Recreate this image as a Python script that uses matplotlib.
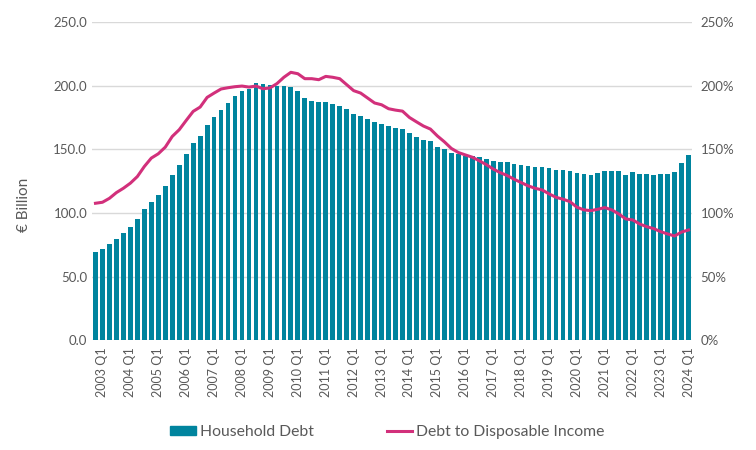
import matplotlib
matplotlib.use("Agg")
import matplotlib.pyplot as plt
from matplotlib.patches import Patch
from matplotlib.lines import Line2D
from matplotlib.ticker import FuncFormatter
import numpy as np

plt.rcParams['font.family'] = ['Lato', 'DejaVu Sans']

# quarters 2002 Q4 .. 2024 Q1
quarters = ['2002 Q4'] + ['%d Q%d' % (y, q) for y in range(2003, 2024) for q in range(1, 5)] + ['2024 Q1']

# household debt, EUR billion
household_debt = [
    69.3, 71.7, 75.6, 79.5, 84.3, 89.0, 95.3, 103.1, 108.7, 114.2,
    121.3, 129.9, 137.8, 146.5, 155.1, 160.6, 169.3, 175.6, 181.1, 186.6,
    192.1, 196.1, 197.6, 202.4, 201.6, 200.8, 200.0, 200.0, 199.2, 196.1,
    190.6, 188.2, 187.4, 187.4, 185.8, 184.3, 181.9, 178.0, 176.4, 174.0,
    171.7, 170.1, 168.5, 166.9, 166.1, 163.0, 159.8, 157.5, 156.7, 152.0,
    150.4, 147.2, 146.5, 144.9, 144.9, 144.1, 142.5, 140.9, 140.2, 140.2,
    138.6, 137.8, 137.0, 136.2, 136.2, 135.4, 133.9, 133.9, 133.1, 131.5,
    130.7, 129.9, 131.5, 133.1, 133.1, 133.1, 129.9, 132.3, 130.7, 130.7,
    129.9, 130.7, 130.7, 132.3, 139.4, 145.7,
]

# debt to disposable income, %
debt_to_income = [
    107.6, 108.4, 111.5, 116.0, 119.4, 123.4, 128.6, 136.5, 143.1, 146.5,
    151.7, 160.1, 165.4, 172.7, 179.8, 183.2, 190.8, 194.2, 197.4, 198.4,
    199.2, 199.7, 198.9, 199.7, 197.6, 198.2, 201.6, 206.6, 210.5, 209.4,
    205.5, 205.5, 204.7, 207.3, 206.6, 205.5, 200.8, 196.1, 194.2, 190.3,
    186.4, 185.0, 181.9, 180.8, 180.0, 175.0, 171.6, 168.3, 165.9, 160.5,
    155.9, 150.7, 147.5, 145.6, 143.8, 141.0, 138.0, 134.5, 131.7, 129.4,
    126.5, 123.9, 121.3, 119.4, 118.1, 115.0, 112.3, 110.8, 108.9, 104.5,
    102.4, 101.8, 102.9, 104.2, 102.4, 99.2, 95.3, 94.5, 91.3, 89.2,
    87.7, 85.3, 83.5, 81.9, 85.0, 86.6,
]

bar_col = '#00849E'
line_col = '#D2307B'
txt_col = '#595959'

fig = plt.figure(figsize=(7.56, 4.5), dpi=100)
ax = fig.add_axes([0.1217, 0.244, 0.7937, 0.707])
ax2 = ax.twinx()

x = np.arange(len(quarters))
ax.bar(x, household_debt, width=0.68, color=bar_col, zorder=2)
ax2.plot(x, debt_to_income, color=line_col, linewidth=2.2, zorder=3)

ax.set_ylim(0, 250)
ax2.set_ylim(0, 250)
ax.set_xlim(-0.5, len(quarters) - 0.5)
ax.set_yticks(np.arange(0, 251, 50))
ax2.set_yticks(np.arange(0, 251, 50))
ax.yaxis.set_major_formatter(FuncFormatter(lambda v, p: '%.1f' % v))
ax2.yaxis.set_major_formatter(FuncFormatter(lambda v, p: '%d%%' % v))
ax.grid(axis='y', color='#D9D9D9', linewidth=1, zorder=0)
ax.set_axisbelow(True)

labels = [q if q.endswith('Q1') else '' for q in quarters]
ax.set_xticks(x)
ax.set_xticklabels(labels, rotation=90, fontsize=9, color=txt_col)
ax.tick_params(axis='both', length=0, colors=txt_col, labelsize=9.5)
ax2.tick_params(axis='y', length=0, colors=txt_col, labelsize=9.5, pad=6)
ax.tick_params(axis='x', pad=5, labelsize=9)

for a in (ax, ax2):
    for s in a.spines.values():
        s.set_visible(False)

fig.text(24 / 756, 1 - 205 / 450, '€ Billion', rotation=90, ha='center', va='center',
         color=txt_col, fontsize=11)

handles = [Patch(color=bar_col), Line2D([0], [0], color=line_col, linewidth=2.2)]
fig.legend(handles, ['Household Debt', 'Debt to Disposable Income'],
           loc='center', bbox_to_anchor=(0.5126, 0.04), ncol=2, frameon=False,
           fontsize=11.3, labelcolor=txt_col, handlelength=1.6, handleheight=0.5,
           handletextpad=0.25, columnspacing=4.7)

fig.savefig('out.png', dpi=100)
